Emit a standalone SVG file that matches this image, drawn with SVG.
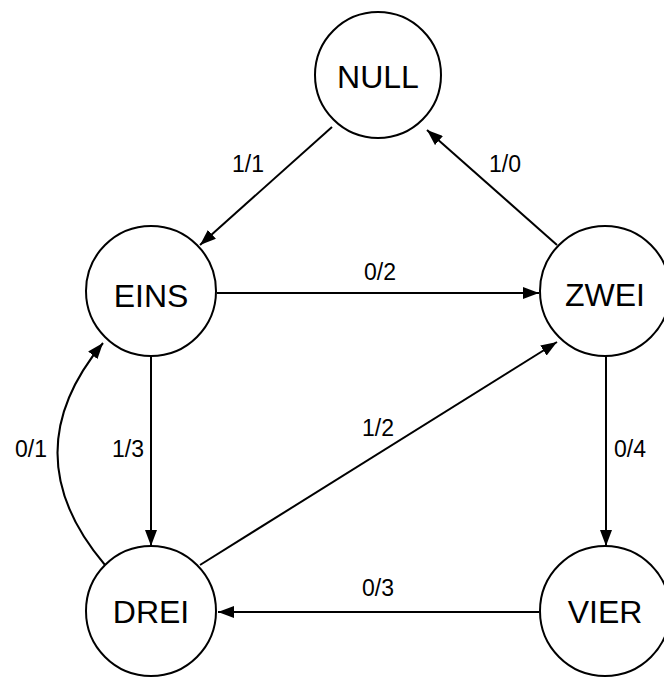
<svg xmlns="http://www.w3.org/2000/svg" width="664" height="677" viewBox="0 0 664 677">
<defs>
<marker id="arr" viewBox="0 0 16 12" refX="16" refY="6" markerWidth="16" markerHeight="12" markerUnits="userSpaceOnUse" orient="auto">
<path d="M0,0 L16,6 L0,12 Z" fill="#000"/>
</marker>
</defs>
<style>
.st circle{fill:#fff;stroke:#000;stroke-width:2}
.st text{font-family:"Liberation Sans",Arial,sans-serif;font-size:32px;text-anchor:middle;fill:#000}
.ed path{fill:none;stroke:#000;stroke-width:2;marker-end:url(#arr)}
.lb{font-family:"Liberation Sans",Arial,sans-serif;font-size:23px;text-anchor:middle;fill:#000}
</style>
<rect width="664" height="677" fill="#fff"/>
<g id="edges" class="ed">
<path d="M332,127 L200,245"/>
<path d="M557,245 L427,130"/>
<path d="M217,293 L539,293"/>
<path d="M151,355 L151,546"/>
<path d="M606,355 L606,546"/>
<path d="M200,565 L557,342"/>
<path d="M105,565 Q11,454 103,343"/>
<path d="M539,612 L218,612"/>
</g>
<g id="labels">
<text class="lb" x="248" y="172">1/1</text>
<text class="lb" x="505" y="172">1/0</text>
<text class="lb" x="380" y="280">0/2</text>
<text class="lb" x="128" y="457">1/3</text>
<text class="lb" x="31" y="457">0/1</text>
<text class="lb" x="378" y="436">1/2</text>
<text class="lb" x="630" y="457">0/4</text>
<text class="lb" x="378" y="596">0/3</text>
</g>
<g id="NULL" class="st"><circle cx="378" cy="75" r="63"/><text x="378" y="88">NULL</text></g>
<g id="EINS" class="st"><circle cx="151" cy="291" r="65"/><text x="151" y="307">EINS</text></g>
<g id="ZWEI" class="st"><circle cx="605" cy="291" r="65"/><text x="605" y="306">ZWEI</text></g>
<g id="DREI" class="st"><circle cx="151" cy="611" r="65"/><text x="151" y="623">DREI</text></g>
<g id="VIER" class="st"><circle cx="605" cy="611" r="65"/><text x="605" y="623">VIER</text></g>
</svg>
